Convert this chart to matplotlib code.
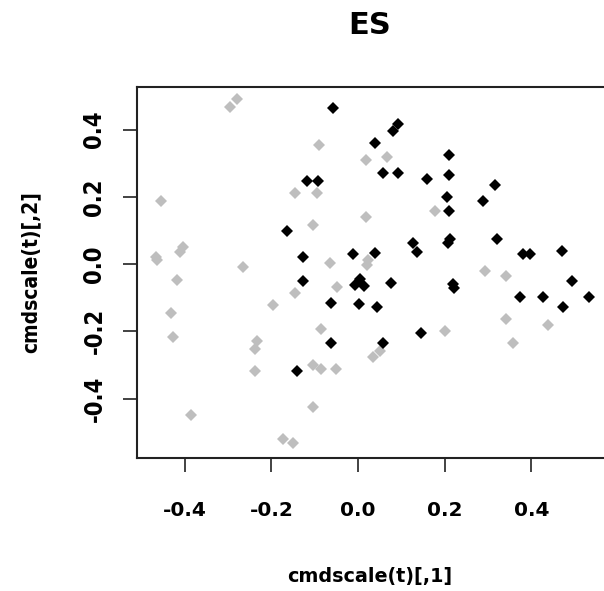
import numpy as np
import matplotlib
matplotlib.use("Agg")
import matplotlib.pyplot as plt

# first two MDS coordinates, split into the two groups
black_x = [-0.058, 0.092, 0.081, 0.039, 0.210, 0.058, 0.092, 0.159, 0.210, 0.316,
           0.205, 0.289, 0.210, -0.118, -0.092, -0.164, -0.127, -0.012, 0.127, 0.136,
           0.212, 0.208, 0.321, 0.039, 0.381, 0.397, 0.471, -0.127, -0.007, 0.005,
           0.014, -0.062, 0.002, -0.062, -0.141, 0.076, 0.218, 0.222, 0.044, 0.058,
           0.145, 0.374, 0.427, 0.473, 0.494, 0.533]
black_y = [0.464, 0.417, 0.396, 0.360, 0.324, 0.271, 0.271, 0.253, 0.265, 0.235,
           0.199, 0.187, 0.158, 0.247, 0.247, 0.098, 0.021, 0.030, 0.062, 0.036,
           0.074, 0.062, 0.074, 0.033, 0.030, 0.030, 0.039, -0.051, -0.063, -0.045,
           -0.065, -0.116, -0.119, -0.235, -0.318, -0.057, -0.060, -0.070, -0.128, -0.235,
           -0.205, -0.098, -0.098, -0.128, -0.051, -0.098]

grey_x = [-0.296, -0.279, -0.090, 0.018, 0.067, -0.455, -0.145, -0.095, 0.018, -0.104,
          -0.466, -0.464, -0.411, -0.404, -0.266, -0.064, 0.023, 0.021, -0.418, 0.178,
          0.293, 0.342, -0.048, -0.145, -0.196, -0.432, -0.427, -0.085, -0.233, -0.238,
          -0.238, -0.104, -0.085, -0.051, 0.035, 0.051, -0.104, -0.386, -0.173, -0.150,
          0.201, 0.342, 0.358, 0.439]
grey_y = [0.467, 0.491, 0.354, 0.310, 0.318, 0.187, 0.211, 0.211, 0.140, 0.116,
          0.021, 0.012, 0.036, 0.051, -0.009, 0.003, 0.012, -0.003, -0.048, 0.158,
          -0.021, -0.036, -0.068, -0.086, -0.122, -0.146, -0.217, -0.193, -0.229, -0.253,
          -0.318, -0.301, -0.313, -0.313, -0.277, -0.259, -0.426, -0.449, -0.521, -0.533,
          -0.199, -0.164, -0.235, -0.182]

ticks = [-0.4, -0.2, 0.0, 0.2, 0.4]

fig = plt.figure(figsize=(6.04, 5.91), dpi=100)
ax = fig.add_axes([0.2268, 0.225, 0.775, 0.628])

ax.plot(grey_x, grey_y, "D", color="#bebebe", markersize=6.5, mew=0)
ax.plot(black_x, black_y, "D", color="black", markersize=6.5, mew=0)

ax.set_xlim(-0.510, 0.570)
ax.set_ylim(-0.577, 0.527)

for s in ax.spines.values():
    s.set_linewidth(1.5)
    s.set_color("#222222")

ax.set_xticks(ticks)
ax.set_yticks(ticks)
ax.set_xticklabels(["%.1f" % t for t in ticks], fontfamily="DejaVu Sans",
                   fontweight="bold", fontsize=14.5)
ax.set_yticklabels(["%.1f" % t for t in ticks], fontfamily="DejaVu Sans",
                   fontweight="bold", fontstretch="condensed", fontsize=17,
                   rotation=90, va="center")
ax.tick_params(axis="both", length=10, width=1.2, color="#222222")
ax.tick_params(axis="x", pad=21)
ax.tick_params(axis="y", pad=12)

ax.set_xlabel("cmdscale(t)[,1]", fontfamily="DejaVu Sans", fontweight="bold",
              fontsize=13.8, va="center")
ax.xaxis.set_label_coords(0.498, -0.318)
ax.set_ylabel("cmdscale(t)[,2]", fontfamily="DejaVu Sans", fontweight="bold",
              fontstretch="condensed", fontsize=15, va="center")
ax.yaxis.set_label_coords(-0.2265, 0.501)

ax.set_title("ES", fontfamily="DejaVu Sans", fontweight="bold", fontsize=22,
             va="center", x=0.498, y=1.143)

fig.savefig("out.png", dpi=100)
